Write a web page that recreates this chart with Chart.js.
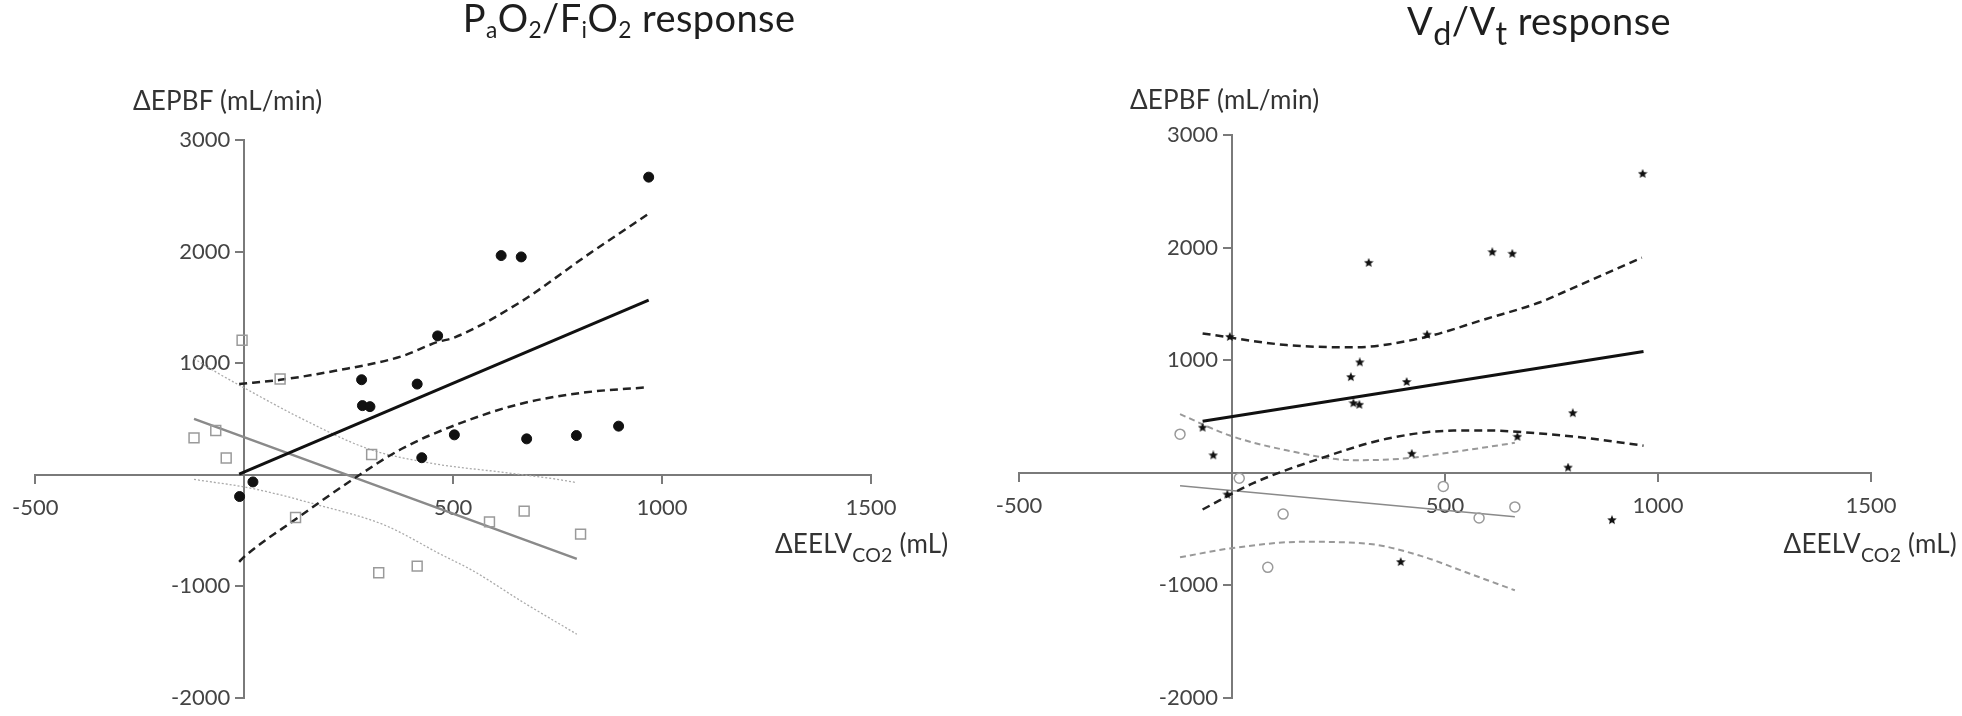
<!DOCTYPE html>
<html>
<head>
<meta charset="utf-8">
<script src="https://cdn.jsdelivr.net/npm/chart.js@4.4.0/dist/chart.umd.min.js"></script>
<style>
  body { margin: 0; background: #fff; }
  #wrap { position: relative; width: 1962px; height: 716px; font-family: Lato, sans-serif; color: #1e1e1e; overflow: hidden; }
  canvas { position: absolute; top: 0; }
  .lbl { position: absolute; white-space: nowrap; line-height: 1; }
  .title { font-size: 38px; letter-spacing: 0.4px; transform: translateX(-50%); }
  .ax { font-size: 26px; letter-spacing: 0.2px; color: #333; }
  .title sub { font-size: 60%; vertical-align: -0.25em; line-height: 0; }
  .title sub.big { font-size: 85%; vertical-align: -0.3em; }
  .ax sub { font-size: 75%; vertical-align: -0.45em; line-height: 0; }
</style>
</head>
<body>
<div id="wrap">
  <canvas id="leftChart" width="981" height="716" style="left:0"></canvas>
  <canvas id="rightChart" width="981" height="716" style="left:981px"></canvas>

  <div class="lbl title" style="left:629px; top:-2px">P<sub>a</sub>O<sub>2</sub>/F<sub>i</sub>O<sub>2</sub> response</div>
  <div class="lbl title" style="left:1539px; top:1px">V<sub class="big">d</sub>/V<sub class="big">t</sub> response</div>

  <div class="lbl ax" style="left:133px; top:87px">ΔEPBF (mL/min)</div>
  <div class="lbl ax" style="left:1130px; top:86px">ΔEPBF (mL/min)</div>

  <div class="lbl ax" style="left:775px; top:530px">ΔEELV<sub>CO2</sub> (mL)</div>
  <div class="lbl ax" style="right:5px; top:530px">ΔEELV<sub>CO2</sub> (mL)</div>
</div>

<script>
// axis ticks (both panels)
const X_TICKS = [-500, 0, 500, 1000, 1500];
const Y_TICKS = [-2000, -1000, 0, 1000, 2000, 3000];

// ---- PaO2/FiO2 panel ----
// responders (filled circles)
const pfRespX = [-11, 21, 281, 283, 301, 414, 425, 463, 503, 615, 663, 676, 795, 896, 968];
const pfRespY = [-196, -65, 851, 619, 610, 812, 152, 1244, 357, 1964, 1952, 321, 351, 435, 2667];
// non-responders (open squares)
const pfNonX = [-120, -68, -43, -5, 86, 123, 305, 322, 414, 587, 670, 805];
const pfNonY = [330, 396, 149, 1205, 857, -384, 181, -879, -820, -423, -327, -533];
// regression lines + confidence bands
const pfRespFitX = [-12, 968];
const pfRespFitY = [5, 1565];
const pfRespUpX = [-12, 86, 218, 376, 463, 502, 660, 818, 968];
const pfRespUpY = [812, 850, 931, 1060, 1190, 1228, 1545, 1960, 2339];
const pfRespLoX = [-12, 5, 123, 265, 376, 502, 660, 818, 964];
const pfRespLoY = [-781, -720, -400, -30, 230, 440, 634, 738, 783];
const pfNonFitX = [-120, 796];
const pfNonFitY = [500, -755];
const pfNonUpX = [-120, -66, 5, 139, 297, 455, 613, 739, 796];
const pfNonUpY = [1040, 917, 768, 500, 232, 98, 24, -36, -71];
const pfNonLoX = [-120, 21, 179, 336, 471, 547, 666, 796];
const pfNonLoY = [-42, -125, -274, -452, -715, -860, -1140, -1430];

// ---- Vd/Vt panel ----
// responders (stars)
const vdRespX = [-69, -44, -11, -5, 279, 285, 299, 300, 321, 396, 410, 422, 458, 611, 658, 670, 789, 800, 892, 964];
const vdRespY = [400, 154, -194, 1206, 849, 617, 603, 980, 1864, -794, 806, 168, 1226, 1959, 1945, 319, 45, 529, -421, 2655];
// non-responders (open circles)
const vdNonX = [-122, 17, 84, 120, 496, 580, 664];
const vdNonY = [342, -49, -841, -368, -122, -403, -304];
const vdRespFitX = [-69, 966];
const vdRespFitY = [456, 1076];
const vdRespUpX = [-69, 128, 285, 441, 598, 723, 778, 962];
const vdRespUpY = [1237, 1134, 1114, 1193, 1368, 1514, 1603, 1910];
const vdRespLoX = [-69, 50, 207, 363, 520, 598, 723, 817, 966];
const vdRespLoY = [-327, -93, 126, 301, 374, 375, 348, 315, 240];
const vdNonFitX = [-122, 664];
const vdNonFitY = [-117, -392];
const vdNonUpX = [-122, -5, 128, 285, 402, 520, 664];
const vdNonUpY = [520, 330, 199, 111, 125, 184, 265];
const vdNonLoX = [-122, -5, 167, 324, 441, 557, 664];
const vdNonLoY = [-752, -673, -614, -634, -737, -896, -1045];

function pts(xs, ys) {
  return xs.map((x, i) => ({ x: x, y: ys[i] }));
}

function lineSet(xs, ys, color, width, dash) {
  return {
    data: pts(xs, ys),
    showLine: true,
    borderColor: color,
    borderWidth: width,
    borderDash: dash || [],
    pointRadius: 0,
    pointHoverRadius: 0,
    fill: false,
    cubicInterpolationMode: 'monotone'
  };
}

function markerSet(xs, ys, style, radius, fill, stroke, width) {
  return {
    data: pts(xs, ys),
    showLine: false,
    pointStyle: style,
    pointRadius: radius,
    pointHoverRadius: radius,
    backgroundColor: fill,
    borderColor: stroke,
    borderWidth: width
  };
}

// small filled star used as marker in the Vd/Vt panel
function makeStar(size) {
  const c = document.createElement('canvas');
  c.width = c.height = size;
  const g = c.getContext('2d');
  const r = size / 2, ri = r * 0.45;
  g.fillStyle = '#111';
  g.beginPath();
  for (let i = 0; i < 10; i++) {
    const a = -Math.PI / 2 + i * Math.PI / 5;
    const rr = i % 2 ? ri : r;
    g.lineTo(r + rr * Math.cos(a), r + rr * Math.sin(a));
  }
  g.closePath();
  g.fill();
  return c;
}

// y labels of an axis placed at x=0 sit on the axis line; push them left past the tick marks
const shiftYLabels = {
  id: 'shiftYLabels',
  beforeDraw(chart) {
    chart.scales.y.getLabelItems().forEach(it => {
      if (!it._shifted) {
        it.options.translation[0] -= 14;
        it._shifted = true;
      }
    });
  }
};

function axisOptions() {
  const grid = { drawOnChartArea: false, color: '#7a7a7a', tickLength: 8, lineWidth: 2 };
  const border = { color: '#7a7a7a', width: 2 };
  const font = { family: 'Lato', size: 22 };
  const hideZero = v => (v === 0 ? '' : v);
  return {
    x: {
      type: 'linear', min: -500, max: 1500,
      position: { y: 0 },
      afterBuildTicks: s => { s.ticks = X_TICKS.map(v => ({ value: v })); },
      grid: grid, border: border,
      ticks: { color: '#444', font: font, padding: 12, maxRotation: 0, callback: hideZero }
    },
    y: {
      type: 'linear', min: -2000, max: 3000,
      position: { x: 0 },
      afterBuildTicks: s => { s.ticks = Y_TICKS.map(v => ({ value: v })); },
      grid: grid, border: border,
      ticks: { color: '#444', font: font, padding: 5, callback: hideZero }
    }
  };
}

function makeChart(id, datasets, padding) {
  return new Chart(document.getElementById(id).getContext('2d'), {
    type: 'scatter',
    data: { datasets: datasets },
    options: {
      responsive: false,
      animation: false,
      layout: { padding: padding },
      plugins: { legend: { display: false }, tooltip: { enabled: false } },
      scales: axisOptions()
    },
    plugins: [shiftYLabels]
  });
}

makeChart('leftChart', [
  markerSet(pfRespX, pfRespY, 'circle', 5, '#111', '#111', 1),
  markerSet(pfNonX, pfNonY, 'rect', 7, 'rgba(255,255,255,0)', '#9a9a9a', 1.5),
  lineSet(pfRespFitX, pfRespFitY, '#111', 3),
  lineSet(pfRespUpX, pfRespUpY, '#222', 2.5, [8, 5]),
  lineSet(pfRespLoX, pfRespLoY, '#222', 2.5, [8, 5]),
  lineSet(pfNonFitX, pfNonFitY, '#8a8a8a', 2.5),
  lineSet(pfNonUpX, pfNonUpY, '#aaaaaa', 1.3, [2, 2]),
  lineSet(pfNonLoX, pfNonLoY, '#aaaaaa', 1.3, [2, 2])
], { left: 27, right: 110, top: 140, bottom: 14 });

makeChart('rightChart', [
  markerSet(vdRespX, vdRespY, makeStar(10), 5, '#111', '#111', 1),
  markerSet(vdNonX, vdNonY, 'circle', 5, 'rgba(255,255,255,0)', '#9a9a9a', 1.5),
  lineSet(vdRespFitX, vdRespFitY, '#111', 3),
  lineSet(vdRespUpX, vdRespUpY, '#222', 2.5, [8, 5]),
  lineSet(vdRespLoX, vdRespLoY, '#222', 2.5, [8, 5]),
  lineSet(vdNonFitX, vdNonFitY, '#8a8a8a', 1.5),
  lineSet(vdNonUpX, vdNonUpY, '#999999', 2, [6, 4]),
  lineSet(vdNonLoX, vdNonLoY, '#999999', 2, [6, 4])
], { left: 38, right: 91, top: 135, bottom: 15 });
</script>
</body>
</html>
